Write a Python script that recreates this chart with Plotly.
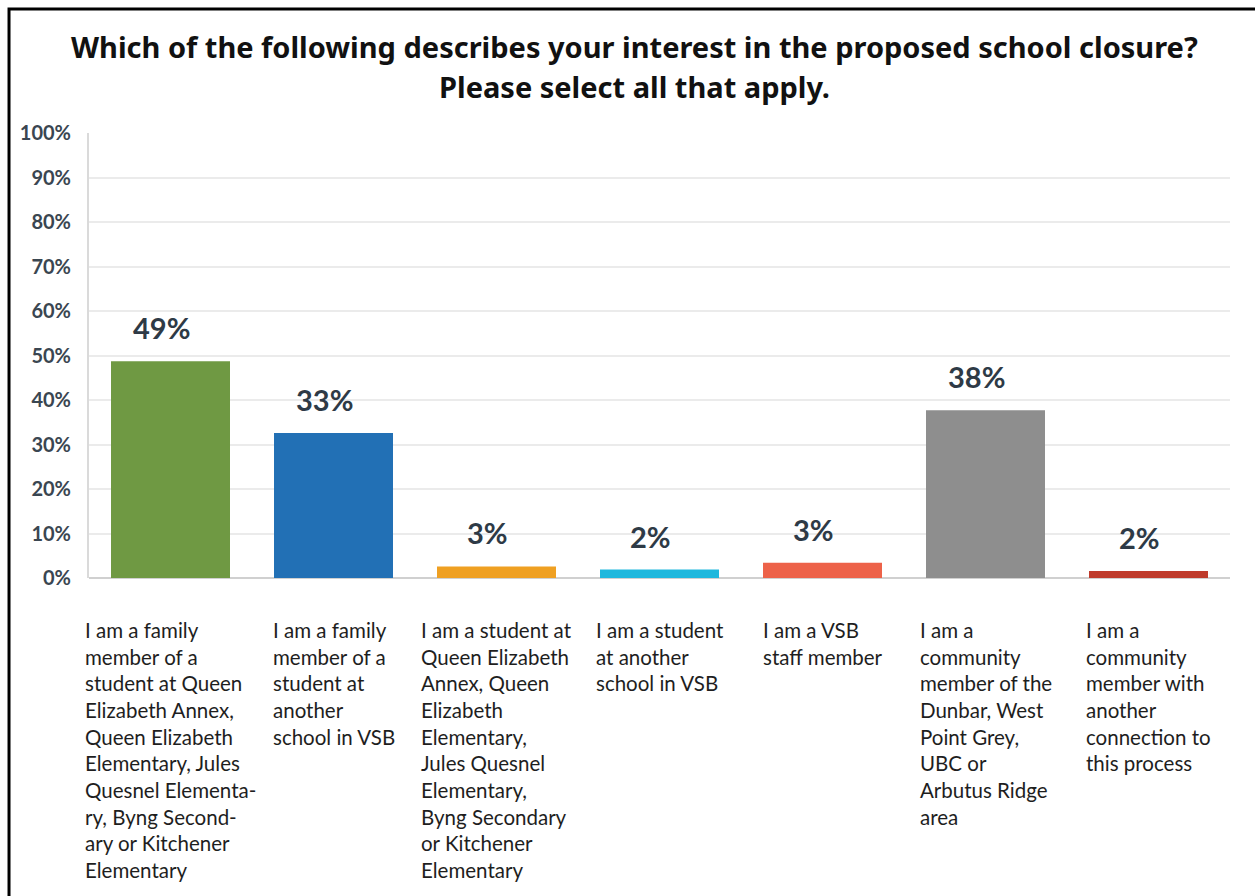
import plotly.graph_objects as go

# Survey responses (share of respondents, %)
categories = [
    "I am a family<br>member of a<br>student at Queen<br>Elizabeth Annex,<br>Queen Elizabeth<br>Elementary, Jules<br>Quesnel Elementa-<br>ry, Byng Second-<br>ary or Kitchener<br>Elementary",
    "I am a family<br>member of a<br>student at<br>another<br>school in VSB",
    "I am a student at<br>Queen Elizabeth<br>Annex, Queen<br>Elizabeth<br>Elementary,<br>Jules Quesnel<br>Elementary,<br>Byng Secondary<br>or Kitchener<br>Elementary",
    "I am a student<br>at another<br>school in VSB",
    "I am a VSB<br>staff member",
    "I am a<br>community<br>member of the<br>Dunbar, West<br>Point Grey,<br>UBC or<br>Arbutus Ridge<br>area",
    "I am a<br>community<br>member with<br>another<br>connection to<br>this process",
]
shares = [48.7, 32.6, 2.6, 1.9, 3.4, 37.7, 1.6]
bar_colors = ["#6F9943", "#2270B5", "#EFA022", "#1FB8DD", "#ED6249", "#8E8E8E", "#BF3B2C"]
y_ticks = list(range(0, 101, 10))
title_lines = [
    "Which of the following describes your interest in the proposed school closure?",
    "Please select all that apply.",
]

x_idx = list(range(len(categories)))

fig = go.Figure()
fig.add_trace(go.Bar(
    x=x_idx,
    y=shares,
    marker=dict(color=bar_colors, line=dict(width=0)),
    width=0.73,
    hoverinfo="skip",
))

# value labels above the bars
for i, v in zip(x_idx, shares):
    fig.add_annotation(
        x=i, y=v, xref="x", yref="y",
        text=f"{v:.0f}%", showarrow=False,
        yanchor="bottom", yshift=14, xshift=-9,
        font=dict(family="Lato", size=29, color="#2E3A46", weight="bold"),
    )

# category descriptions under the bars
for i, c in zip(x_idx, categories):
    fig.add_annotation(
        x=i, y=0, xref="x", yref="y",
        text=c, showarrow=False, align="left",
        xanchor="center", yanchor="top", yshift=-38,
        font=dict(family="Lato", size=20.5, color="#1E1E1E"),
    )

# two-line heading
for line, py in zip(title_lines, [1.1933, 1.1056]):
    fig.add_annotation(
        x=0.478, y=py, xref="paper", yref="paper",
        text=line, showarrow=False,
        xanchor="center", yanchor="middle",
        font=dict(family="Noto Sans", size=29, color="#111111", weight="bold"),
    )

# outer frame
fig.add_shape(
    type="rect", xref="paper", yref="paper",
    x0=-0.0701, x1=1.2, y0=-0.9, y1=1.2787,
    line=dict(color="#000000", width=3), fillcolor="rgba(0,0,0,0)",
    layer="above",
)

fig.update_layout(
    width=1255, height=896,
    margin=dict(l=89, r=25, t=133, b=318),
    paper_bgcolor="white", plot_bgcolor="white",
    showlegend=False,
    xaxis=dict(
        range=[-0.5, len(categories) - 0.5],
        showticklabels=False, showgrid=False, zeroline=False,
        showline=False, fixedrange=True,
    ),
    yaxis=dict(
        range=[0, 100], tickvals=y_ticks,
        ticktext=[f"{t}%" for t in y_ticks],
        tickfont=dict(family="Lato", size=20, color="#3A4651", weight="bold"),
        showgrid=True, gridcolor="#EBEBEB", gridwidth=1.5,
        zeroline=True, zerolinecolor="#D0D0D0", zerolinewidth=2,
        showline=True, linecolor="#DADADA", linewidth=2,
        ticks="", ticklabelstandoff=12,
    ),
)

fig.write_html("out.html")
